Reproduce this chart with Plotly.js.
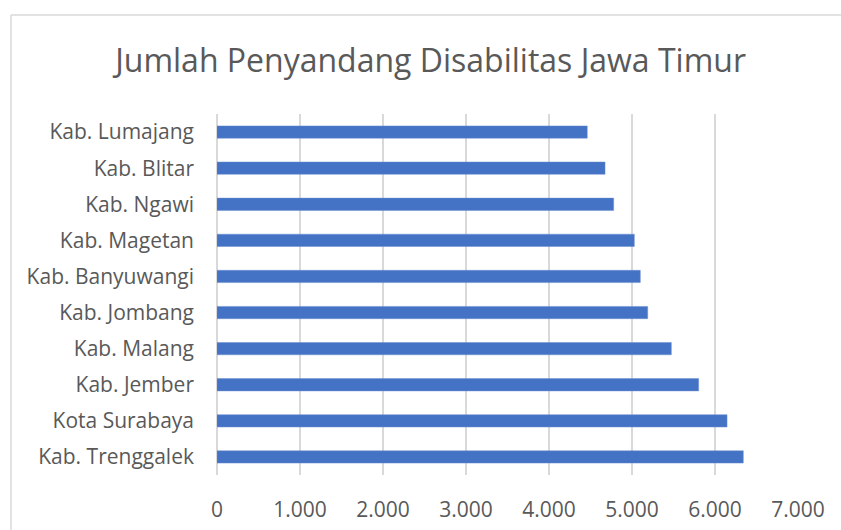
<!DOCTYPE html>
<html>
<head>
<meta charset="utf-8">
<script src="https://cdn.plot.ly/plotly-3.0.1.min.js"></script>
<style>html,body{margin:0;padding:0;background:#fff;}#chart{width:841px;height:530px;}</style>
</head>
<body>
<div id="chart"></div>
<script>
// Categories listed from bottom to top (as drawn)
const regions = ["Kab. Trenggalek","Kota Surabaya","Kab. Jember","Kab. Malang","Kab. Jombang","Kab. Banyuwangi","Kab. Magetan","Kab. Ngawi","Kab. Blitar","Kab. Lumajang"];
const counts = [6341, 6145, 5803, 5474, 5189, 5100, 5028, 4779, 4675, 4461];
const xTicks = [0,1000,2000,3000,4000,5000,6000,7000];
const chartTitle = "Jumlah Penyandang Disabilitas Jawa Timur";

const font = "Open Sans, Noto Sans, sans-serif";
const trace = {
  type: "bar",
  orientation: "h",
  x: counts,
  y: regions,
  marker: {color: "#4472C4", line: {color: "#6a8fd3", width: 0.5}},
  hoverinfo: "x+y"
};
const layout = {
  width: 841, height: 530,
  margin: {l: 217, r: 43, t: 114, b: 55},
  paper_bgcolor: "#fff", plot_bgcolor: "#fff",
  separators: ",.",
  bargap: 0.66,
  showlegend: false,
  title: {text: chartTitle, x: 0.512, xanchor: "center", y: 0.885, yanchor: "middle",
          font: {family: font, size: 32, color: "#595959"}},
  xaxis: {range: [0, 7000], tickvals: xTicks, tickformat: ",d", showgrid: true,
          gridcolor: "#d9d9d9", gridwidth: 2, zeroline: true, zerolinecolor: "#d9d9d9", zerolinewidth: 2,
          showline: false, ticks: "", ticklabelstandoff: 20,
          tickfont: {family: font, size: 21, color: "#595959"}, fixedrange: true},
  yaxis: {type: "category", showgrid: false, zeroline: false, showline: false, ticks: "",
          ticklabelstandoff: 22, tickfont: {family: font, size: 21, color: "#595959"}, fixedrange: true},
  shapes: [
    {type: "line", xref: "paper", yref: "paper", x0: (11-217)/581, x1: (845-217)/581, y0: (475-15)/361, y1: (475-15)/361,
     line: {color: "#d9d9d9", width: 1.5}},
    {type: "line", xref: "paper", yref: "paper", x0: (11-217)/581, x1: (11-217)/581, y0: (475-15)/361, y1: (475-535)/361,
     line: {color: "#d9d9d9", width: 1.5}}
  ]
};
Plotly.newPlot("chart", [trace], layout, {displayModeBar: false, staticPlot: true});
</script>
</body>
</html>
